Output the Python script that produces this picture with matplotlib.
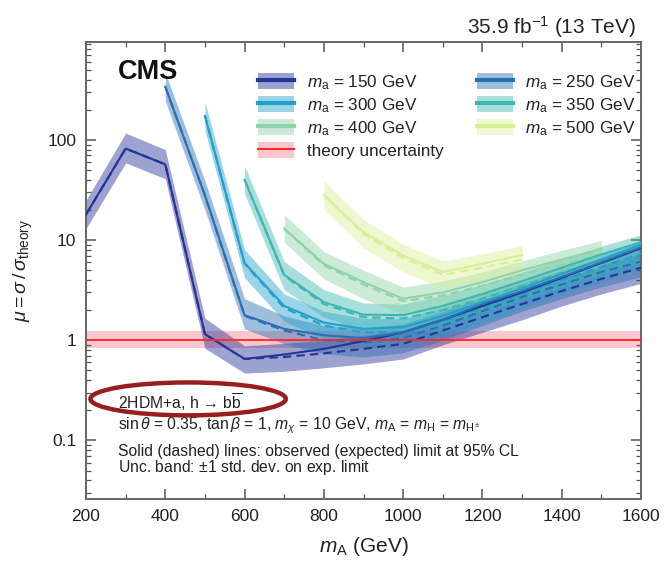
import matplotlib
matplotlib.use("Agg")
import matplotlib.pyplot as plt
from matplotlib.patches import Patch, Ellipse
from matplotlib.lines import Line2D
from matplotlib.ticker import MultipleLocator, FixedLocator, LogLocator, NullFormatter
import numpy as np

plt.rcParams['font.family'] = ['Liberation Sans', 'DejaVu Sans']
plt.rcParams['mathtext.fontset'] = 'custom'
plt.rcParams['mathtext.rm'] = 'Liberation Sans'
plt.rcParams['mathtext.it'] = 'Liberation Sans:italic'
plt.rcParams['mathtext.bf'] = 'Liberation Sans:bold'

# ---------------- data ----------------
labels = ["150", "250", "300", "350", "400", "500"]
colors = ["#263497", "#2b6fb3", "#229fca", "#3fb6b2", "#8fd3a8", "#d8ef98"]

mA_150 = [200, 300, 400, 500, 600, 700, 800, 900, 1000, 1100, 1200, 1300, 1400, 1500, 1600]
obs_150 = [18, 82, 57, 1.15, 0.65, 0.72, 0.82, 0.98, 1.2, 1.6, 2.2, 3.0, 4.2, 5.9, 8.3]
exp_150 = [18, 82, 57, 1.15, 0.65, 0.68, 0.74, 0.82, 0.92, 1.25, 1.7, 2.3, 3.1, 4.1, 5.3]
lo_150 = [13, 59, 41, 0.83, 0.47, 0.49, 0.53, 0.58, 0.65, 0.9, 1.2, 1.6, 2.2, 2.9, 3.7]
hi_150 = [25, 117, 80, 1.66, 0.88, 0.93, 1.0, 1.12, 1.25, 1.7, 2.3, 3.1, 4.2, 5.6, 7.2]

mA_250 = [400, 500, 600, 700, 800, 900, 1000, 1100, 1200, 1300, 1400, 1500, 1600]
obs_250 = [340, 28, 1.78, 1.3, 1.12, 1.05, 1.2, 1.6, 2.3, 3.1, 4.3, 6.0, 8.5]
exp_250 = [340, 28, 1.75, 1.25, 1.0, 0.95, 1.05, 1.4, 1.95, 2.7, 3.6, 4.8, 6.1]
lo_250 = [245, 20, 1.3, 0.92, 0.73, 0.68, 0.75, 1.0, 1.4, 1.95, 2.6, 3.4, 4.3]
hi_250 = [470, 39, 2.6, 1.75, 1.4, 1.33, 1.45, 1.95, 2.7, 3.7, 5.0, 6.7, 8.6]

mA_300 = [500, 600, 700, 800, 900, 1000, 1100, 1200, 1300, 1400, 1500, 1600]
obs_300 = [174, 5.9, 2.2, 1.5, 1.3, 1.35, 1.75, 2.4, 3.3, 4.6, 6.4, 9.0]
exp_300 = [174, 5.8, 2.1, 1.4, 1.2, 1.2, 1.55, 2.1, 2.9, 4.0, 5.4, 7.3]
lo_300 = [125, 4.2, 1.55, 1.02, 0.88, 0.88, 1.12, 1.5, 2.1, 2.9, 3.9, 5.2]
hi_300 = [240, 8.0, 2.9, 1.95, 1.65, 1.65, 2.15, 2.9, 4.0, 5.5, 7.4, 10.0]

mA_350 = [600, 700, 800, 900, 1000, 1100, 1200, 1300, 1400, 1500, 1600]
obs_350 = [40, 4.5, 2.4, 1.8, 1.78, 2.2, 2.9, 3.9, 5.3, 7.2, 9.5]
exp_350 = [40, 4.4, 2.3, 1.7, 1.65, 2.0, 2.6, 3.5, 4.7, 6.3, 8.2]
lo_350 = [29, 3.2, 1.7, 1.25, 1.2, 1.45, 1.9, 2.55, 3.4, 4.6, 6.0]
hi_350 = [55, 6.1, 3.2, 2.35, 2.3, 2.8, 3.6, 4.8, 6.5, 8.7, 11.3]

mA_400 = [700, 800, 900, 1000, 1100, 1200, 1300, 1400, 1500]
obs_400 = [13, 5.8, 3.8, 2.6, 3.0, 3.8, 5.0, 6.4, 8.1]
exp_400 = [13, 5.6, 3.6, 2.45, 2.8, 3.5, 4.5, 5.7, 7.2]
lo_400 = [9.5, 4.1, 2.6, 1.8, 2.05, 2.55, 3.3, 4.2, 5.3]
hi_400 = [18, 7.7, 5.0, 3.4, 3.9, 4.8, 6.2, 7.9, 9.9]

mA_500 = [800, 900, 1000, 1100, 1200, 1300]
obs_500 = [28, 12, 7.0, 4.8, 5.8, 7.1]
exp_500 = [28, 11.5, 6.6, 4.5, 5.3, 6.4]
lo_500 = [20, 8.4, 4.8, 3.3, 3.9, 4.7]
hi_500 = [39, 16, 9.1, 6.2, 7.3, 8.8]

series = [
    (mA_150, obs_150, exp_150, lo_150, hi_150),
    (mA_250, obs_250, exp_250, lo_250, hi_250),
    (mA_300, obs_300, exp_300, lo_300, hi_300),
    (mA_350, obs_350, exp_350, lo_350, hi_350),
    (mA_400, obs_400, exp_400, lo_400, hi_400),
    (mA_500, obs_500, exp_500, lo_500, hi_500),
]

theory_lo, theory_hi, theory_val = 0.83, 1.23, 1.0

# ---------------- figure ----------------
fig = plt.figure(figsize=(6.64, 5.70), dpi=100)
ax = fig.add_axes([0.1295, 0.1246, 0.8359, 0.8017])
ax.set_yscale('log')
ax.set_xlim(200, 1600)
ax.set_ylim(0.026, 950)

ax.axhspan(theory_lo, theory_hi, color='#f5a3ad', alpha=0.6, lw=0, zorder=1)

for (x, o, e, lo, hi), c in zip(series, colors):
    ax.fill_between(x, lo, hi, color=c, alpha=0.45, lw=0, zorder=2)
for (x, o, e, lo, hi), c in zip(series, colors):
    ax.plot(x, e, color=c, lw=1.5, ls=(0, (4, 2.5)), zorder=3)
    ax.plot(x, o, color=c, lw=1.5, zorder=4)

ax.axhline(theory_val, color='#ff2626', lw=1.3, zorder=5)

# ticks
ax.xaxis.set_major_locator(MultipleLocator(200))
ax.xaxis.set_minor_locator(MultipleLocator(100))
ax.yaxis.set_major_locator(FixedLocator([0.1, 1, 10, 100]))
ax.yaxis.set_minor_locator(LogLocator(base=10, subs=np.arange(2, 10) * 1.0, numticks=20))
ax.yaxis.set_minor_formatter(NullFormatter())
ax.set_yticklabels(["0.1", "1", "10", "100"])
ax.tick_params(which='both', direction='in', top=True, right=True, color='#555555',
               labelsize=12.5, labelcolor='#222222', pad=7)
ax.tick_params(which='major', length=7, width=1.1)
ax.tick_params(which='minor', length=3.5, width=0.9)
for s in ax.spines.values():
    s.set_color('#666666')
    s.set_linewidth(1.4)

ax.set_xlabel(r"$m_\mathrm{A}$ (GeV)", fontsize=15, color='#222222', labelpad=8)
ax.set_ylabel(r"$\mu = \sigma\,/\,\sigma_\mathrm{theory}$", fontsize=14, color='#222222', labelpad=9)

fig.text(0.957, 0.952, r"35.9 fb$^{-1}$ (13 TeV)", ha='right', va='center', fontsize=15, color='#222222')
ax.text(0.058, 0.935, "CMS", transform=ax.transAxes, fontsize=19.5, fontweight='bold',
        ha='left', va='center', color='#111111')

# legend
handles = []
for c in colors:
    handles.append((Patch(facecolor=c, alpha=0.45, lw=0), Line2D([], [], color=c, lw=3)))
leg_labels = [r"$m_\mathrm{a}$ = %s GeV" % l for l in labels]
th = (Patch(facecolor='#f5a3ad', alpha=0.6, lw=0), Line2D([], [], color='#ff2626', lw=1.5))
order = [0, 2, 4]
h_list = [handles[i] for i in order] + [th] + [handles[i] for i in [1, 3, 5]]
l_list = [leg_labels[i] for i in order] + ["theory uncertainty"] + [leg_labels[i] for i in [1, 3, 5]]
leg = ax.legend(h_list, l_list, ncol=2, loc='upper left', bbox_to_anchor=(0.282, 0.966),
                frameon=False, fontsize=12.3, handlelength=2.1, handleheight=1.05,
                labelspacing=0.25, columnspacing=1.95, handletextpad=0.75)
for t in leg.get_texts():
    t.set_color('#222222')

# annotation text
tx = 0.058
fs = 11.3
ax.text(tx, 0.212, "2HDM+a, h \u2192 b" + r"$\overline{\mathrm{b}}$", transform=ax.transAxes,
        fontsize=fs, color='#222222', va='center', family=['DejaVu Sans'] if False else ['Liberation Sans', 'DejaVu Sans'])
ax.text(tx, 0.160, r"sin$\,\theta$ = 0.35, tan$\,\beta$ = 1, $m_\chi$ = 10 GeV, $m_\mathrm{A}$ = $m_\mathrm{H}$ = $m_{\mathrm{H}^{\pm}}$",
        transform=ax.transAxes, fontsize=fs, color='#222222', va='center')
ax.text(tx, 0.103, "Solid (dashed) lines: observed (expected) limit at 95% CL", transform=ax.transAxes,
        fontsize=fs, color='#222222', va='center')
ax.text(tx, 0.068, r"Unc. band: $\pm$1 std. dev. on exp. limit", transform=ax.transAxes,
        fontsize=fs, color='#222222', va='center')

ell = Ellipse((0.184, 0.219), 0.352, 0.072, transform=ax.transAxes, fill=False,
              edgecolor='#981e1e', lw=3.2, zorder=6)
ax.add_patch(ell)

fig.savefig("out.png", dpi=100)
